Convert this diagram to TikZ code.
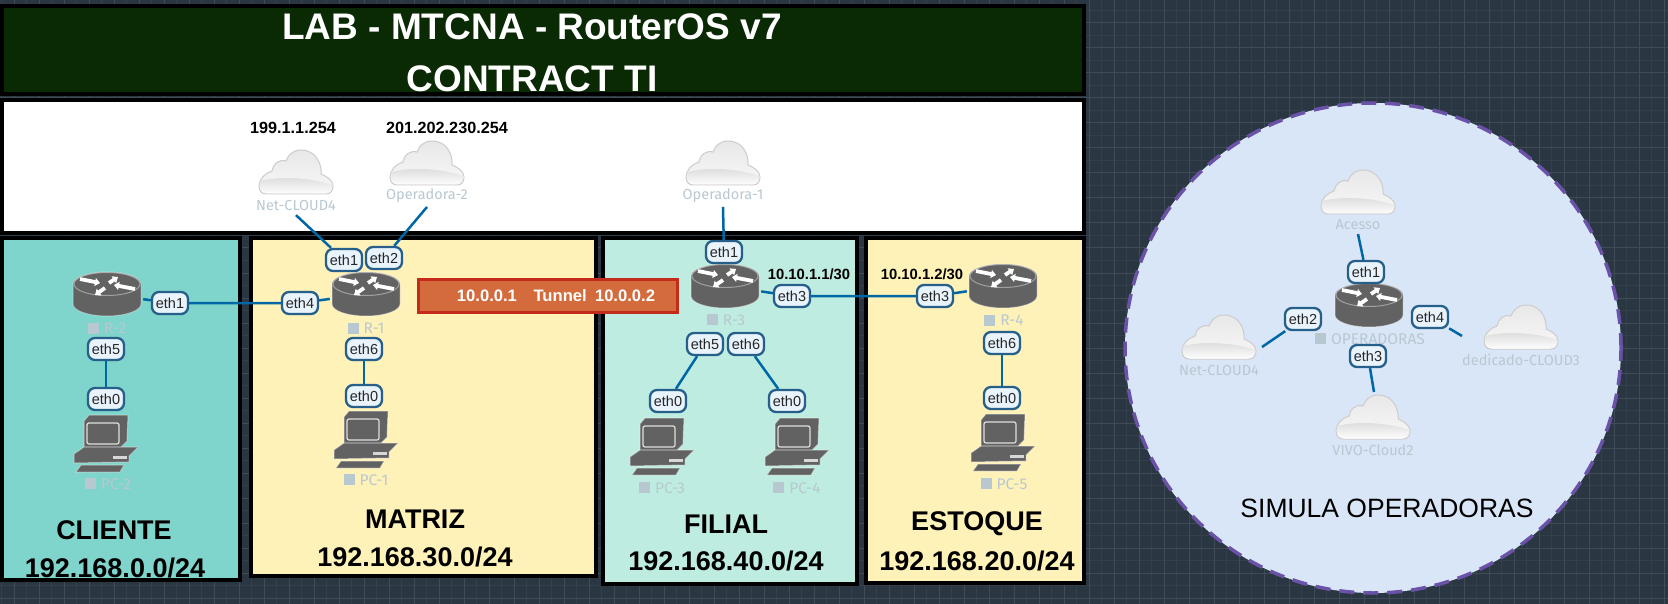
\documentclass[tikz,border=0pt]{standalone}
\usepackage{fontspec}
\setmainfont{Liberation Sans}
\newfontfamily\iconfont{Fira Sans}
\usetikzlibrary{arrows.meta}
\definecolor{bgdark}{HTML}{2A3742}
\definecolor{gridmaj}{HTML}{3F4C56}
\definecolor{gridmin}{HTML}{33404B}
\definecolor{titlegreen}{HTML}{0A2A04}
\definecolor{cliente}{HTML}{7FD4CB}
\definecolor{matriz}{HTML}{FFF2B8}
\definecolor{filial}{HTML}{BFECE0}
\definecolor{simula}{HTML}{D9E6F7}
\definecolor{dashpurple}{HTML}{6A52A8}
\definecolor{linkblue}{HTML}{0067A6}
\definecolor{ethedge}{HTML}{255F8A}
\definecolor{ethfill}{HTML}{E8F3FC}
\definecolor{icongray}{HTML}{626262}
\definecolor{lblgray}{HTML}{B8C8D1}
\definecolor{tunfill}{HTML}{D46B3D}
\definecolor{tunedge}{HTML}{C52B1A}
\tikzset{
  >={Stealth[length=2mm,width=1.6mm]},
  zone/.style={draw=black,line width=4pt},
  eth/.style={draw=ethedge,fill=ethfill,line width=2.3pt,rounded corners=7pt,minimum width=36pt,minimum height=22pt,inner sep=0pt,text=black!85,font=\fontsize{14.5}{16}\selectfont},
  link/.style={draw=linkblue,line width=2.5pt},
  dev/.style={minimum width=72pt,minimum height=46pt,inner sep=0pt},
  lbl/.style={text=lblgray,inner sep=0pt,outer sep=4pt,font=\iconfont\fontsize{14.5}{16}\selectfont},
  devlbl/.style={lbl,font=\iconfont\fontsize{15.5}{17}\selectfont},
  ip/.style={inner sep=0pt,font=\bfseries\fontsize{16.2}{18}\selectfont},
  ipb/.style={inner sep=0pt,font=\bfseries\fontsize{14.8}{17}\selectfont},
  ttl/.style={inner sep=0pt,text=white,font=\bfseries\fontsize{37}{40}\selectfont},
  sec/.style={inner sep=0pt,font=\bfseries\fontsize{27}{30}\selectfont},
  arw/.style={white,line width=3.8pt,-{Triangle[length=5pt,width=8pt]}},
  pics/router/.style={code={
    \fill[icongray,draw=white,draw opacity=.35,line width=1pt] (-34,-10) -- (-34,10) arc[start angle=180,end angle=360,x radius=34pt,y radius=12pt] -- (34,-10) arc[start angle=0,end angle=180,x radius=34pt,y radius=12pt] -- cycle;
    \draw[white,draw opacity=.4,line width=1pt,fill=icongray] (0,-10) ellipse[x radius=33pt,y radius=11.5pt];
    \draw[arw] (-27,-15) -- (-7,-11);
    \draw[arw] (2,-11) -- (11,-17);
    \draw[arw] (28,-5) -- (7,-9);
    \draw[arw] (-2,-6) -- (-12,1);
  }},
  pics/pc/.style={code={
    \fill[icongray,draw=white,draw opacity=.4,line width=1pt] (-22,-23) -- (-17,-29) -- (22,-29) -- (21,-3) -- (15,3) -- (-22,3) -- cycle;
    \draw[white,draw opacity=.8,line width=1.2pt,rounded corners=2pt] (-19,-21) rectangle (13,0);
    \fill[icongray,draw=white,draw opacity=.4,line width=1pt] (-32,10) -- (-22,3) -- (32,3) -- (23,12) -- (23,18) -- (-32,19) -- cycle;
    \fill[white,opacity=.75] (7,12) rectangle (21,15);
    \fill[icongray,draw=white,draw opacity=.4,line width=1pt] (-25,21) -- (18,21) -- (14,28) -- (-30,28) -- cycle;
  }},
  pics/cloud/.style={code={
    \path[draw=black!20,line width=1pt,top color=black!9,bottom color=black!3] (-30,22) -- (30,22) .. controls (35,22) and (37,18) .. (37,14) .. controls (37,8) and (30,4) .. (25,2) .. controls (26,-8) and (20,-22) .. (5,-22) .. controls (-3,-22) and (-8,-17) .. (-10,-11) .. controls (-17,-13) and (-23,-8) .. (-24,-1) .. controls (-31,1) and (-37,7) .. (-37,14) .. controls (-37,19) and (-34,22) .. (-30,22) -- cycle;
    \path[top color=black!15,bottom color=black!1] (-29,21.5) -- (29,21.5) .. controls (34,21.5) and (36.5,18) .. (36.5,13) .. controls (20,7) and (-12,3) .. (-36,9) .. controls (-37,17) and (-34,21.5) .. (-29,21.5) -- cycle;
  }},
}
\newcommand{\sq}{\rule{11pt}{11pt}\hspace{5pt}}

\begin{document}
\begin{tikzpicture}[x=1pt,y=-1pt]
\useasboundingbox (0,0) rectangle (1668,604);
\fill[bgdark] (0,0) rectangle (1668,604);
\foreach \gx in {1.5,26.5,...,1668} \draw[gridmin,line width=1pt] (\gx,0) -- (\gx,604);
\foreach \gy in {10.5,35.5,...,604} \draw[gridmin,line width=1pt] (0,\gy) -- (1668,\gy);
\foreach \gx in {14,39,...,1668} \draw[gridmaj,line width=1pt] (\gx,0) -- (\gx,604);
\foreach \gy in {23,48,...,604} \draw[gridmaj,line width=1pt] (0,\gy) -- (1668,\gy);

% zones
\draw[zone,fill=titlegreen] (2,6) rectangle (1084,94);
\draw[zone,fill=white] (2,100) rectangle (1084,233);
\draw[zone,fill=cliente] (2,238) rectangle (240,580);
\draw[zone,fill=matriz] (251,238) rectangle (596,576);
\draw[zone,fill=filial] (603,238) rectangle (857,584);
\draw[zone,fill=matriz] (866,238) rectangle (1084,583);
\draw[dashpurple,line width=3.5pt,dash pattern=on 15pt off 9pt,fill=simula] (1373,348) ellipse[x radius=248pt,y radius=245pt];

\node[ttl] (t1) at (532,27) {LAB - MTCNA - RouterOS v7};
\node[ttl] (t2) at (532,79) {CONTRACT TI};
\node[sec] (s1) at (114,530) {CLIENTE};
\node[sec] (n1) at (115,568) {192.168.0.0/24};
\node[sec] (s2) at (415,519) {MATRIZ};
\node[sec] (n2) at (415,557) {192.168.30.0/24};
\node[sec] (s3) at (726,524) {FILIAL};
\node[sec] (n3) at (726,561) {192.168.40.0/24};
\node[sec] (s4) at (977,524) {ESTOQUE};
\node[sec] (n4) at (977,561) {192.168.20.0/24};
\node[inner sep=0pt,font=\fontsize{26.5}{30}\selectfont] (s5) at (1387,508) {SIMULA OPERADORAS};
\node[ip] (a1) at (293,128) {199.1.1.254};
\node[ip] (a2) at (447,128) {201.202.230.254};
\node[ipb] (a3) at (809,274) {10.10.1.1/30};
\node[ipb] (a4) at (922,274) {10.10.1.2/30};

% clouds
\pic at (296,172) {cloud};
\node[lbl] (cn4) at (296,206) {Net-CLOUD4};
\pic at (427,163) {cloud};
\node[lbl] (co2) at (427,196) {Operadora-2};
\pic at (723,163) {cloud};
\node[lbl] (co1) at (723,196) {Operadora-1};
\pic at (1358,192) {cloud};
\node[lbl] (cac) at (1358,225) {Acesso};
\pic at (1219,337) {cloud};
\node[lbl] (cn4b) at (1219,371) {Net-CLOUD4};
\pic at (1521,327) {cloud};
\node[lbl] (cd3) at (1521,360) {dedicado-CLOUD3};
\pic at (1373,417) {cloud};
\node[lbl] (cv2) at (1373,450) {VIVO-Cloud2};
\coordinate (fn4) at (1262,347);
\coordinate (fd3) at (1462,336);
\coordinate (fv2) at (1374,392);

% routers
\pic at (107,294) {router};
\node[dev] (r2) at (107,294) {};
\node[devlbl] (lr2) at (107,328) {\sq R-2};
\pic at (366,294) {router};
\node[dev] (r1) at (366,294) {};
\node[devlbl] (lr1) at (366,328) {\sq R-1};
\pic at (725,286) {router};
\node[dev] (r3) at (725,286) {};
\node[devlbl] (lr3) at (726,320) {\sq R-3};
\pic at (1003,286) {router};
\node[dev] (r4) at (1003,286) {};
\node[devlbl] (lr4) at (1004,320) {\sq R-4};
\pic at (1369,305) {router};
\node[dev] (rop) at (1369,305) {};
\node[devlbl] (lrop) at (1370,339) {\sq OPERADORAS};

% pcs
\pic at (106,444) {pc};
\node[devlbl] (pc2) at (108,484) {\sq PC-2};
\pic at (366,440) {pc};
\node[devlbl] (pc1) at (366,480) {\sq PC-1};
\pic at (662,447) {pc};
\node[devlbl] (pc3) at (662,488) {\sq PC-3};
\pic at (797,447) {pc};
\node[devlbl] (pc4) at (797,488) {\sq PC-4};
\pic at (1003,443) {pc};
\node[devlbl] (pc5) at (1004,484) {\sq PC-5};

% tunnel
\node[draw=tunedge,fill=tunfill,line width=3pt,minimum width=259pt,minimum height=33pt,inner sep=0pt,text=white,font=\bfseries\fontsize{16.6}{18}\selectfont] (tun) at (548,295.5) {\hspace*{16pt}10.0.0.1\quad Tunnel\enspace 10.0.0.2};

% ports
\node[eth] (e2a) at (170,303) {eth1};
\node[eth] (e2b) at (106,349) {eth5};
\node[eth] (e2c) at (106,399) {eth0};
\node[eth] (e1a) at (300,303) {eth4};
\node[eth] (e1b) at (344,260) {eth1};
\node[eth] (e1c) at (384,258) {eth2};
\node[eth] (e1d) at (364,349) {eth6};
\node[eth] (e1e) at (364,396) {eth0};
\node[eth] (e3a) at (724,252) {eth1};
\node[eth] (e3b) at (792,296) {eth3};
\node[eth] (e3c) at (705,344) {eth5};
\node[eth] (e3d) at (746,344) {eth6};
\node[eth] (e3e) at (668,401) {eth0};
\node[eth] (e3f) at (787,401) {eth0};
\node[eth] (e4a) at (935,296) {eth3};
\node[eth] (e4b) at (1002,343) {eth6};
\node[eth] (e4c) at (1002,398) {eth0};
\node[eth] (eoa) at (1366,272) {eth1};
\node[eth] (eob) at (1303,319) {eth2};
\node[eth] (eoc) at (1368,356) {eth3};
\node[eth] (eod) at (1430,317) {eth4};

% connectors
\draw[link] (r2) -- (e2a) -- (e1a) -- (r1);
\draw[link] (e2b) -- (e2c);
\draw[link] (cn4.south) -- (e1b);
\draw[link] (co2.south) -- (e1c);
\draw[link] (e1d) -- (e1e);
\draw[link] (co1.south) -- (e3a);
\draw[link] (r3) -- (e3b) -- (e4a) -- (r4);
\draw[link] (e3c) -- (e3e);
\draw[link] (e3d) -- (e3f);
\draw[link] (e4b) -- (e4c);
\draw[link] (cac.south) -- (eoa);
\draw[link] (fn4) -- (eob);
\draw[link] (fd3) -- (eod);
\draw[link] (eoc) -- (fv2);
\end{tikzpicture}
\end{document}
